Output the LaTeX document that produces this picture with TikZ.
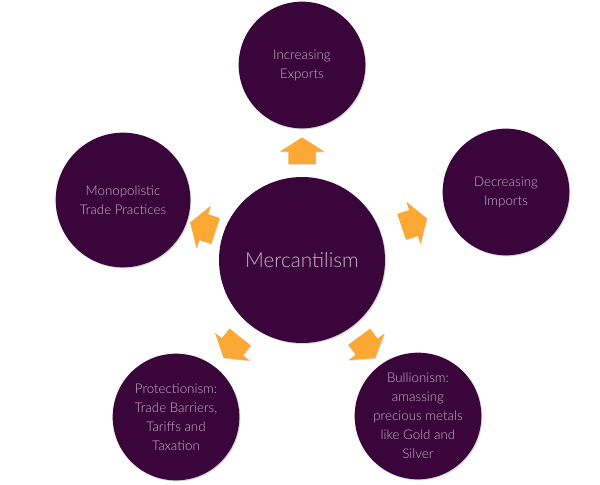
\documentclass[tikz,border=0pt]{standalone}
\usepackage{fontspec}
\setmainfont{Lato Light}
\usetikzlibrary{shapes.arrows, shadows, positioning}
\definecolor{mercpurple}{RGB}{58,5,58}
\definecolor{merctext}{RGB}{204,176,206}
\definecolor{mercorange}{RGB}{251,168,52}

\tikzset{
  bubble/.style={circle, fill=mercpurple, text=merctext, align=center, inner sep=0pt,
    minimum size=95pt, font=\fontsize{10}{14.25}\selectfont,
    drop shadow={opacity=0.3, shadow xshift=0.8pt, shadow yshift=-0.8pt}},
  blockarrow/.style={single arrow, fill=mercorange, inner xsep=0pt, inner ysep=10pt,
    minimum height=20pt, single arrow head extend=6.5pt,
    single arrow tip angle=115,
    drop shadow={opacity=0.25, shadow xshift=0.6pt, shadow yshift=-0.6pt}}
}

\begin{document}
\begin{tikzpicture}[x=0.75pt, y=-0.75pt]
    \useasboundingbox (0,0) rectangle (600,485);

    % Hub centrale
    \node[bubble, minimum size=124.5pt, font=\fontsize{15.5}{19}\selectfont] (merc) at (302,260) {Mercantilism};

    % Spokes
    \node[bubble] (exp) at (302,65) {Increasing\\Exports};
    \node[bubble] (imp) at (506,192) {Decreasing\\Imports};
    \node[bubble, minimum size=101pt] (mono) at (123,200) {Monopolistic\\Trade Practices};
    \node[bubble] (prot) at (176,417) {Protectionism:\\Trade Barriers,\\Tariffs and\\Taxation};
    \node[bubble] (bull) at (418,416) {Bullionism:\\amassing\\precious metals\\like Gold and\\Silver};

    % Frecce
    \path (merc) -- node[pos=.45, sloped, allow upside down, blockarrow] (aexp) {} (exp);
    \path (merc) -- node[pos=.45, sloped, allow upside down, blockarrow] (aimp) {} (imp);
    \path (merc) -- node[pos=.45, sloped, allow upside down, blockarrow] (amono) {} (mono);
    \path (merc) -- node[pos=.45, sloped, allow upside down, blockarrow] (aprot) {} (prot);
    \path (merc) -- node[pos=.45, sloped, allow upside down, blockarrow] (abull) {} (bull);
\end{tikzpicture}
\end{document}
